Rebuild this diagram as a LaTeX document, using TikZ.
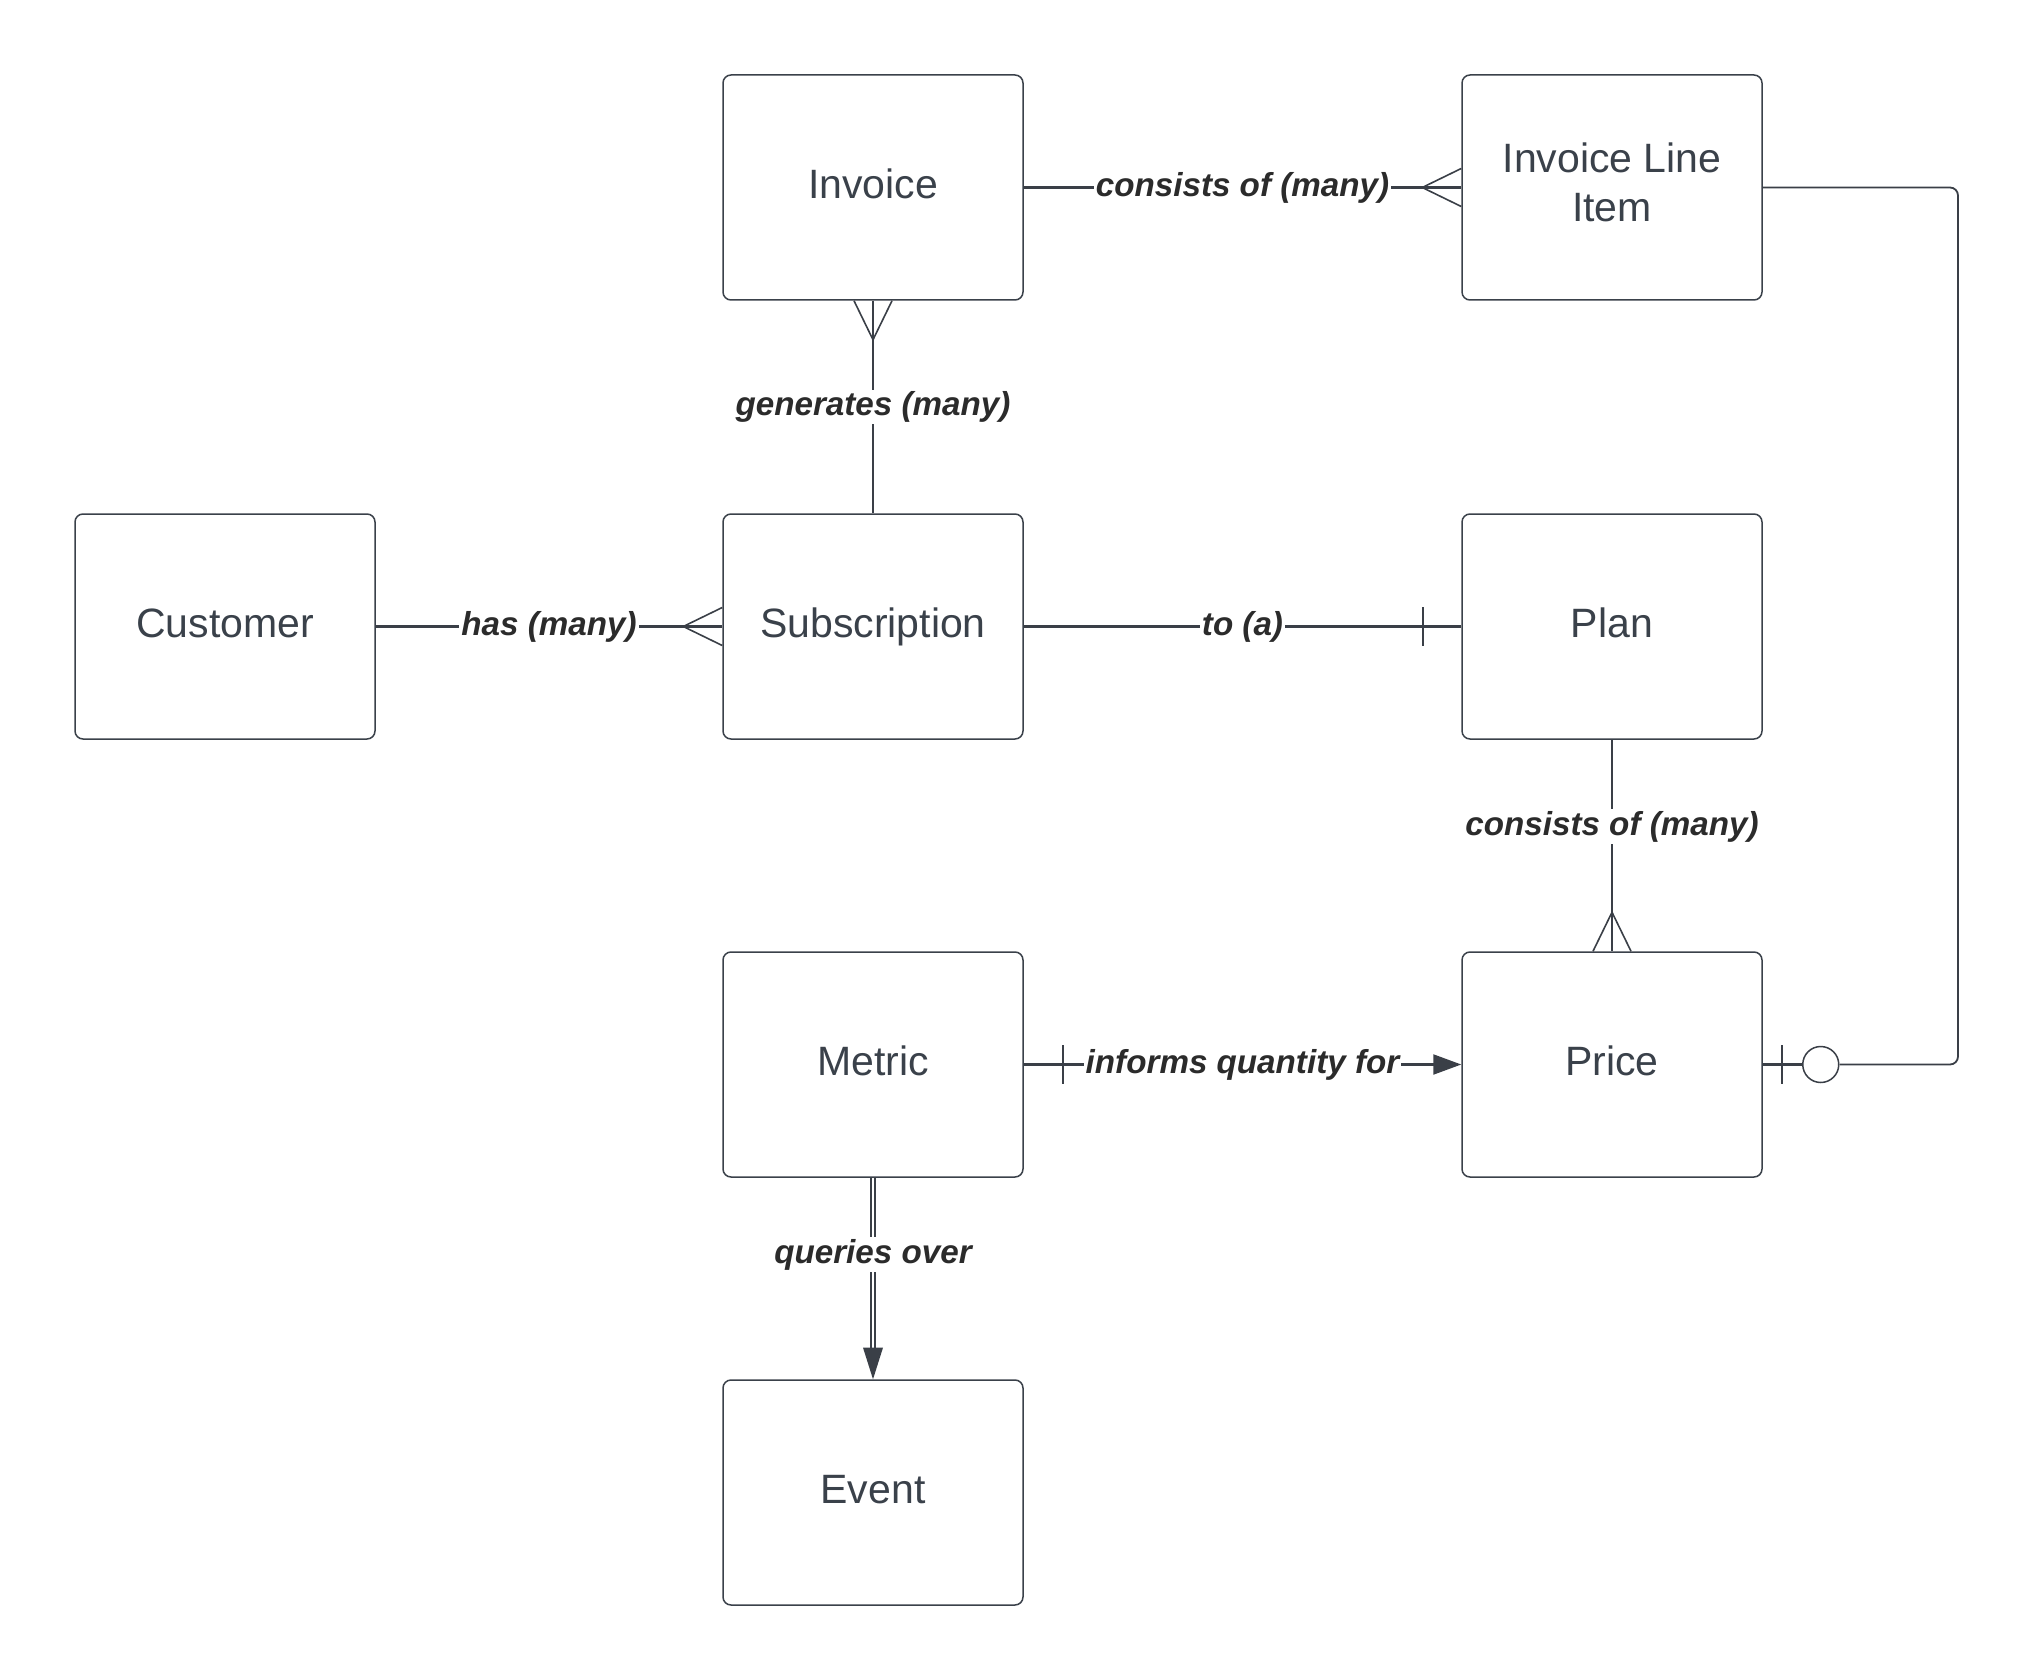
\documentclass[tikz,border=0pt]{standalone}
\usepackage{fontspec}
\setmainfont{Liberation Sans}
\usetikzlibrary{calc,arrows.meta}
\definecolor{boxc}{HTML}{3A414A}
\definecolor{linec}{HTML}{3A3F47}
\definecolor{lblc}{HTML}{2B2B2B}
\tikzset{
  ent/.style={draw=boxc, line width=0.75pt, rounded corners=4pt, minimum width=150pt, minimum height=112.5pt, inner sep=0pt, align=center, text=boxc, font=\fontsize{20.5}{24.7}\selectfont, text height=15pt, text depth=4.3pt},
  ent2/.style={draw=boxc, line width=0.75pt, rounded corners=4pt, minimum width=150pt, minimum height=112.5pt, inner sep=0pt},
  enttxt/.style={inner sep=0pt, align=center, text=boxc, font=\fontsize{20.5}{24.7}\selectfont},
  conn/.style={draw=linec, line width=1.1pt},
  foot/.style={draw=linec, line width=0.8pt},
  lbl/.style={fill=white, inner sep=1pt, text=lblc, font=\fontsize{16.6}{19}\selectfont\bfseries\itshape},
}
\begin{document}
\begin{tikzpicture}[x=0.5pt,y=-0.5pt]
\useasboundingbox (0,0) rectangle (2036,1680);
% entities
\node[ent] (inv) at (873,187.5) {Invoice};
\node[ent2] (ili) at (1612,187.5) {};
\node[enttxt] (ilit) at ([yshift=2.5pt]ili.center) {Invoice Line\\Item};
\node[ent] (cus) at (225,626.5) {Customer};
\node[ent] (sub) at (873,626.5) {Subscription};
\node[ent] (plan) at (1612,626.5) {Plan};
\node[ent] (met) at (873,1064.5) {Metric};
\node[ent] (pri) at (1612,1064.5) {Price};
\node[ent] (ev) at (873,1492.5) {Event};

% Invoice -- Invoice Line Item
\draw[conn] (inv.east) -- node[lbl]{consists of (many)} (ili.west);
\draw[foot] ([yshift=9.5pt]ili.west) -- ([xshift=-19.5pt]ili.west) -- ([yshift=-9.5pt]ili.west);

% Invoice -- Subscription
\draw[conn] (inv.south) -- node[lbl]{generates (many)} (sub.north);
\draw[foot] ([xshift=-9.5pt]inv.south) -- ([yshift=-19.5pt]inv.south) -- ([xshift=9.5pt]inv.south);

% Customer -- Subscription
\draw[conn] (cus.east) -- node[lbl]{has (many)} (sub.west);
\draw[foot] ([yshift=9.5pt]sub.west) -- ([xshift=-19.5pt]sub.west) -- ([yshift=-9.5pt]sub.west);

% Subscription -- Plan
\draw[conn] (sub.east) -- node[lbl]{to (a)} (plan.west);
\draw[conn] ([xshift=-19pt,yshift=9.75pt]plan.west) -- ([xshift=-19pt,yshift=-9.75pt]plan.west);

% Plan -- Price
\draw[conn] (plan.south) -- node[lbl,pos=0.41]{consists of (many)} (pri.north);
\draw[foot] ([xshift=-9.5pt]pri.north) -- ([yshift=19.5pt]pri.north) -- ([xshift=9.5pt]pri.north);

% Metric -- Price
\draw[conn,-{Triangle[length=14pt,width=10pt]}] (met.east) -- node[lbl]{informs quantity for} (pri.west);
\draw[conn] ([xshift=19.5pt,yshift=9.75pt]met.east) -- ([xshift=19.5pt,yshift=-9.75pt]met.east);

% Metric -- Event
\coordinate (evb) at ([yshift=15.5pt]ev.north);
\draw[draw=linec, line width=1.25pt, double=white, double distance=0.6pt] (met.south) -- node[lbl,pos=0.45]{queries over} (evb);
\fill[linec] ([xshift=-5pt,yshift=0.3pt]evb) -- (ev.north) -- ([xshift=5pt,yshift=0.3pt]evb) -- cycle;

% Invoice Line Item -- Price
\node[draw=linec, line width=0.75pt, circle, minimum size=18pt, inner sep=0pt, fill=white] (oc) at ([xshift=29pt]pri.east) {};
\coordinate (rt) at (1958,187.5);
\coordinate (rb) at (1958,1064.5);
\draw[draw=linec, line width=0.9pt, rounded corners=4pt] (ili.east) -- (rt) -- (rb) -- (oc.east);
\draw[conn] (pri.east) -- (oc.west);
\draw[conn] ([xshift=9.5pt,yshift=9.75pt]pri.east) -- ([xshift=9.5pt,yshift=-9.75pt]pri.east);
\end{tikzpicture}
\end{document}
